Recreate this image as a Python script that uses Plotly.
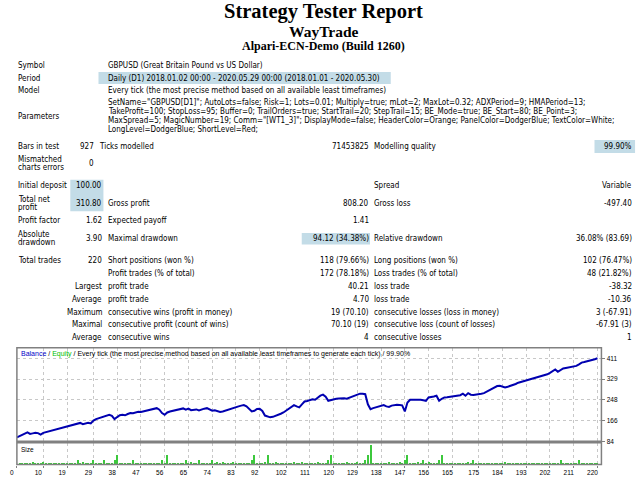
import plotly.graph_objects as go

W, H = 640, 480

# ---------------- report text ----------------
report_title = "Strategy Tester Report"
ea_name = "WayTrade"
server_name = "Alpari-ECN-Demo (Build 1260)"

info_labels = ["Symbol", "Period", "Model"]
info_values = [
    "GBPUSD (Great Britain Pound vs US Dollar)",
    "Daily (D1) 2018.01.02 00:00 - 2020.05.29 00:00 (2018.01.01 - 2020.05.30)",
    "Every tick (the most precise method based on all available least timeframes)",
]
param_label = "Parameters"
param_lines = [
    'SetName="GBPUSD[D1]"; AutoLots=false; Risk=1; Lots=0.01; Multiply=true; mLot=2; MaxLot=0.32; ADXPeriod=9; HMAPeriod=13;',
    "TakeProfit=100; StopLoss=95; Buffer=0; TrailOrders=true; StartTrail=20; StepTrail=15; BE_Mode=true; BE_Start=80; BE_Point=3;",
    'MaxSpread=5; MagicNumber=19; Comm="[WT1_3]"; DisplayMode=false; HeaderColor=Orange; PanelColor=DodgerBlue; TextColor=White;',
    "LongLevel=DodgerBlue; ShortLevel=Red;",
]

# (label, value, label2, value2, label3, value3)
test_rows = [
    ("Bars in test", "927", "Ticks modelled", "71453825", "Modelling quality", "99.90%"),
    ("Mismatched\ncharts errors", "0", "", "", "", ""),
]
money_rows = [
    ("Initial deposit", "100.00", "", "", "Spread", "Variable"),
    ("Total net\nprofit", "310.80", "Gross profit", "808.20", "Gross loss", "-497.40"),
    ("Profit factor", "1.62", "Expected payoff", "1.41", "", ""),
    ("Absolute\ndrawdown", "3.90", "Maximal drawdown", "94.12 (34.38%)", "Relative drawdown", "36.08% (83.69)"),
]
trade_rows = [
    ("Total trades", "220", "Short positions (won %)", "118 (79.66%)", "Long positions (won %)", "102 (76.47%)"),
    ("", "", "Profit trades (% of total)", "172 (78.18%)", "Loss trades (% of total)", "48 (21.82%)"),
    ("", "Largest", "profit trade", "40.21", "loss trade", "-38.32"),
    ("", "Average", "profit trade", "4.70", "loss trade", "-10.36"),
    ("", "Maximum", "consecutive wins (profit in money)", "19 (70.10)", "consecutive losses (loss in money)", "3 (-67.91)"),
    ("", "Maximal", "consecutive profit (count of wins)", "70.10 (19)", "consecutive loss (count of losses)", "-67.91 (3)"),
    ("", "Average", "consecutive wins", "4", "consecutive losses", "1"),
]

# ---------------- chart data ----------------
trade_no = list(range(0, 221))
balance = [
    100, 104, 109, 115, 120, 114, 116, 118, 117, 111,
    118, 121, 124, 127, 130, 133, 136, 139, 142, 145,
    148, 150, 153, 155, 157, 152, 156, 158, 155, 166,
    172, 176, 180, 182, 186, 189, 185, 172, 180, 187,
    189, 187, 192, 196, 195, 198, 201, 200, 203, 206,
    209, 211, 213, 215, 209, 196, 189, 198, 202, 204,
    206, 208, 211, 214, 209, 213, 207, 208, 210, 206,
    211, 213, 215, 210, 205, 207, 203, 200, 202, 205,
    207, 211, 215, 219, 222, 225, 227, 222, 210, 202,
    205, 212, 213, 204, 186, 182, 179, 181, 184, 189,
    193, 198, 205, 214, 218, 227, 222, 218, 230, 241,
    243, 246, 250, 248, 257, 264, 268, 260, 244, 247,
    249, 252, 253, 255, 254, 252, 256, 261, 265, 269,
    272, 272, 270, 230, 211, 215, 218, 222, 224, 227,
    222, 220, 225, 227, 228, 227, 226, 202, 237, 248,
    248, 249, 250, 248, 246, 244, 257, 258, 261, 264,
    244, 252, 257, 258, 260, 262, 263, 264, 266, 272,
    264, 274, 268, 267, 268, 270, 272, 274, 279, 284,
    289, 296, 302, 303, 300, 296, 299, 302, 306, 310,
    315, 318, 321, 324, 327, 329, 332, 335, 338, 341,
    344, 348, 354, 360, 367, 358, 364, 371, 373, 375,
    377, 379, 381, 387, 394, 396, 398, 400, 403, 407,
    410.8,
]
lot_size = [
    0.01, 0.01, 0.01, 0.01, 0.01, 0.02, 0.01, 0.01, 0.01, 0.02, 0.01, 0.01, 0.01, 0.01, 0.01, 0.01, 0.01, 0.01, 0.01, 0.01,
    0.01, 0.01, 0.04, 0.01, 0.02, 0.01, 0.01, 0.01, 0.04, 0.01, 0.01, 0.01, 0.04, 0.01, 0.01, 0.01, 0.04, 0.08, 0.01, 0.01,
    0.01, 0.01, 0.01, 0.04, 0.01, 0.01, 0.01, 0.01, 0.01, 0.01, 0.01, 0.01, 0.01, 0.01, 0.04, 0.01, 0.08, 0.01, 0.01, 0.01,
    0.01, 0.01, 0.01, 0.04, 0.01, 0.02, 0.01, 0.01, 0.04, 0.01, 0.01, 0.01, 0.01, 0.04, 0.01, 0.02, 0.01, 0.02, 0.01, 0.01,
    0.01, 0.02, 0.01, 0.01, 0.01, 0.01, 0.01, 0.01, 0.04, 0.08, 0.01, 0.01, 0.01, 0.02, 0.08, 0.01, 0.01, 0.02, 0.01, 0.01,
    0.01, 0.01, 0.01, 0.01, 0.02, 0.01, 0.01, 0.02, 0.01, 0.01, 0.01, 0.01, 0.01, 0.02, 0.01, 0.01, 0.01, 0.04, 0.08, 0.01,
    0.01, 0.01, 0.01, 0.01, 0.02, 0.01, 0.01, 0.01, 0.02, 0.01, 0.01, 0.04, 0.08, 0.16, 0.01, 0.01, 0.01, 0.01, 0.01, 0.01,
    0.02, 0.01, 0.01, 0.01, 0.02, 0.01, 0.04, 0.08, 0.01, 0.01, 0.01, 0.02, 0.01, 0.04, 0.01, 0.02, 0.01, 0.01, 0.01, 0.04,
    0.08, 0.01, 0.01, 0.01, 0.01, 0.01, 0.01, 0.01, 0.01, 0.01, 0.02, 0.01, 0.04, 0.01, 0.01, 0.01, 0.01, 0.01, 0.01, 0.01,
    0.01, 0.01, 0.01, 0.01, 0.02, 0.01, 0.01, 0.01, 0.01, 0.01, 0.01, 0.01, 0.01, 0.01, 0.01, 0.01, 0.01, 0.01, 0.01, 0.01,
    0.01, 0.01, 0.01, 0.01, 0.01, 0.04, 0.01, 0.01, 0.01, 0.01, 0.01, 0.01, 0.04, 0.01, 0.01, 0.01, 0.01, 0.01, 0.01, 0.01,
]
x_ticks = [0, 10, 19, 29, 38, 47, 56, 65, 74, 83, 92, 102, 111, 120, 129, 138, 147, 156, 165, 175, 184, 193, 202, 211, 220]
y_ticks = [84, 166, 248, 329, 411]

BODY = "DejaVu Sans Condensed, Liberation Sans"
SERIF = "Liberation Serif"
HILITE = "#C3DCE7"
FS = 8

fig = go.Figure()


def put(x, y, text, anchor="left", size=FS, family=BODY, color="black"):
    fig.add_annotation(x=x / W, y=1 - y / H, xref="paper", yref="paper", text=text,
                       showarrow=False, xanchor=anchor, yanchor="middle", borderpad=0,
                       font=dict(size=size, family=family, color=color))


def put_lines(x, y, text, anchor="left", gap=8.3):
    parts = text.split("\n")
    y0 = y - gap * (len(parts) - 1) / 2
    for i, p in enumerate(parts):
        put(x, y0 + i * gap, p, anchor)


def box(x0, y0, x1, y1, color=HILITE):
    fig.add_shape(type="rect", xref="paper", yref="paper", x0=x0 / W, x1=x1 / W,
                  y0=1 - y1 / H, y1=1 - y0 / H, fillcolor=color, line_width=0, layer="below")


# header
put(320, 11.5, "<b>%s</b>" % report_title, "center", 20.5, SERIF)
put(320, 32, "<b>%s</b>" % ea_name, "center", 15.5, SERIF)
put(320, 46.5, "<b>%s</b>" % server_name, "center", 12, SERIF)

# highlighted cells
box(92.5, 72.5, 388, 84.5)
box(594, 141, 635, 154)
box(64, 181, 97.5, 212.5)
box(298, 234.5, 367, 246)

# info block
info_y = [65.5, 78.5, 91.5]
for yy, lab, val in zip(info_y, info_labels, info_values):
    put(10, yy, lab)
    put(101, yy, val)
put(10, 117, param_label)
for i, line in enumerate(param_lines):
    put(101, 103.5 + i * 9, line)

# tables
test_y = [147, 164.5]
for yy, r in zip(test_y, test_rows):
    put_lines(10, yy, r[0])
    put(89, yy, r[1], "right")
    put(92.5, yy, r[2])
    put(367, yy, r[3], "right")
    put(370, yy, r[4])
    put(633, yy, r[5], "right")

money_y = [187, 205, 222, 240]
for yy, r in zip(money_y, money_rows):
    put_lines(10, yy, r[0])
    put(97, yy, r[1], "right")
    put(101, yy, r[2])
    put(367, yy, r[3], "right")
    put(370, yy, r[4])
    put(633, yy, r[5], "right")

trade_y = [262, 275, 288, 301, 314, 327, 340]
for yy, r in zip(trade_y, trade_rows):
    put(10, yy, r[0])
    put(97, yy, r[1], "right")
    put(101, yy, r[2])
    put(367, yy, r[3], "right")
    put(370, yy, r[4])
    put(633, yy, r[5], "right")

# chart
fig.add_trace(go.Scatter(x=trade_no, y=balance, mode="lines", xaxis="x", yaxis="y",
                         line=dict(color="#0000B0", width=2), hoverinfo="skip"))
fig.add_trace(go.Bar(x=trade_no[1:], y=lot_size, xaxis="x2", yaxis="y2", width=0.45,
                     marker=dict(color="#3CC83C", line_width=0), hoverinfo="skip"))

x_dom = [10 / W, 601 / W]
grid = dict(showgrid=True, gridcolor="#C8C8C8", gridwidth=1, griddash="dot", zeroline=False)
tickfont = dict(size=6.5, family="Liberation Sans", color="black")

fig.update_layout(
    width=W, height=H, margin=dict(l=0, r=0, t=0, b=0),
    paper_bgcolor="white", plot_bgcolor="white", showlegend=False, bargap=0,
    xaxis=dict(domain=x_dom, range=[0, 221.5], anchor="y", tickvals=x_ticks,
               showticklabels=False, showline=False, **grid),
    yaxis=dict(domain=[1 - 444.3 / H, 1 - 350 / H], range=[84, 452], anchor="x", side="right",
               tickvals=y_ticks, ticks="outside", ticklen=3, tickcolor="#808080",
               tickfont=tickfont, showline=False, **grid),
    xaxis2=dict(domain=x_dom, range=[0, 221.5], anchor="y2", tickvals=x_ticks,
                ticktext=[str(v) for v in x_ticks], ticks="outside", ticklen=2,
                tickcolor="#808080", tickfont=tickfont, ticklabelshift=-5, showline=False, **grid),
    yaxis2=dict(domain=[1 - 467.5 / H, 1 - 445.5 / H], range=[0, 0.178], anchor="x2",
                showticklabels=False, showgrid=False, zeroline=False, showline=False),
)

# frame and separator
fig.add_shape(type="rect", xref="paper", yref="paper", x0=10 / W, x1=601 / W,
              y0=1 - 467.5 / H, y1=1 - 350 / H, line=dict(color="#808080", width=1.5),
              fillcolor="rgba(0,0,0,0)", layer="above")
fig.add_shape(type="line", xref="paper", yref="paper", x0=10 / W, x1=601 / W,
              y0=1 - 444.8 / H, y1=1 - 444.8 / H, line=dict(color="#808080", width=3), layer="above")

put(13, 356, '<span style="color:#0000C8">Balance</span> / <span style="color:#00C000">Equity</span>'
    " / Every tick (the most precise method based on all available least timeframes to generate each tick) / 99.90%",
    size=7, family="Liberation Sans")
put(13, 452, "Size", size=6.5, family="Liberation Sans")

# page body has a default 8px margin; drop it so the 640x480 figure fills the window
fig.write_html("out.html", config={"displayModeBar": False},
               post_script="document.body.style.margin='0px';")
